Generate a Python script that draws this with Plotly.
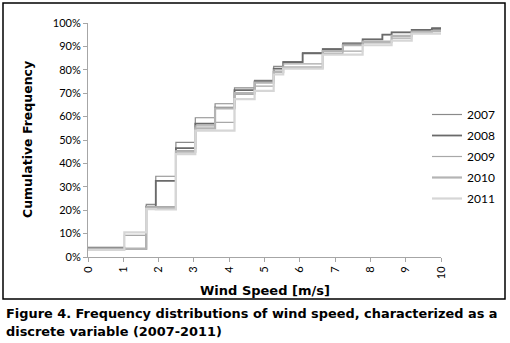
import plotly.graph_objects as go

# Bin edges (wind speed, m/s) and cumulative frequency (%) per year
edges = [0, 1.03, 1.65, 1.92, 2.49, 3.04, 3.6, 4.15, 4.72, 5.26, 5.53, 6.08,
         6.65, 7.22, 7.78, 8.07, 8.34, 8.6, 9.17, 9.74, 10]
years = ["2007", "2008", "2009", "2010", "2011"]
cf_2007 = [3.3, 9.3, 22.5, 34.5, 49.0, 59.5, 65.5, 72.3, 75.5, 81.5, 83.5, 87.3,
           89.0, 91.5, 93.0, 93.0, 95.0, 96.0, 97.0, 98.0, 98.0]
cf_2008 = [4.0, 3.5, 21.5, 32.5, 46.5, 57.0, 63.8, 71.3, 75.0, 80.5, 83.3, 87.0,
           88.8, 91.0, 93.0, 93.0, 95.0, 96.0, 97.0, 97.5, 97.5]
cf_2009 = [3.3, 3.3, 21.5, 21.5, 45.5, 56.0, 57.5, 69.5, 73.0, 80.0, 82.5, 82.5,
           87.0, 88.0, 91.5, 91.5, 91.5, 93.5, 96.5, 96.5, 96.5]
cf_2010 = [3.6, 3.6, 21.0, 21.0, 45.0, 55.0, 63.5, 70.0, 74.5, 79.0, 81.0, 81.0,
           88.0, 90.5, 92.0, 92.0, 92.0, 94.5, 96.0, 96.5, 96.5]
cf_2011 = [3.0, 10.5, 20.5, 20.3, 44.0, 54.0, 54.0, 67.5, 71.0, 78.0, 80.5, 80.5,
           86.5, 86.5, 90.5, 90.5, 90.5, 92.5, 95.5, 95.5, 95.5]
series = [cf_2007, cf_2008, cf_2009, cf_2010, cf_2011]
colors = ["#8a8a8a", "#6a6a6a", "#a8a8a8", "#b4b4b4", "#d6d6d6"]
widths = [1.2, 1.8, 1.2, 2.2, 2.2]

fig = go.Figure()
for name, ys, c, w in zip(years, series, colors, widths):
    fig.add_trace(go.Scatter(x=edges, y=ys, mode="lines", name=name,
                             legendgroup=name,
                             line=dict(shape="hv", color=c, width=w)))

L, R, T, B = 88, 441, 23, 257
W, H = 510, 343
pw, ph = R - L, B - T

def px(x):
    return (x - L) / pw

def py(y):
    return (B - y) / ph

fig.update_layout(
    width=W, height=H,
    margin=dict(l=L, r=W - R, t=T, b=H - B, autoexpand=False),
    paper_bgcolor="white", plot_bgcolor="white",
    font=dict(family="Lato, DejaVu Sans, sans-serif", size=11, color="black"),
    showlegend=True,
    legend=dict(x=px(427), y=py(100), xanchor="left", yanchor="top",
                font=dict(size=12), bgcolor="rgba(0,0,0,0)",
                itemwidth=30, tracegroupgap=2),
    xaxis=dict(range=[0, 10], dtick=1, tick0=0, showgrid=False, zeroline=False,
               showline=True, linecolor="#a6a6a6", linewidth=1,
               ticks="outside", ticklen=4, tickcolor="#a6a6a6",
               tickangle=-90, tickfont=dict(size=11)),
    yaxis=dict(range=[0, 100], dtick=10, tick0=0, ticksuffix="%",
               showgrid=False, zeroline=False,
               showline=True, linecolor="#a6a6a6", linewidth=1,
               ticks="outside", ticklen=4, tickcolor="#a6a6a6",
               tickfont=dict(size=11)),
    shapes=[dict(type="rect", xref="paper", yref="paper",
                 x0=px(3), x1=px(505), y0=py(299), y1=py(3),
                 line=dict(color="black", width=1.5))],
    annotations=[
        dict(text="<b>Wind Speed [m/s]</b>", xref="paper", yref="paper",
             x=px(265), y=py(290), xanchor="center", yanchor="middle",
             showarrow=False, font=dict(family="DejaVu Sans", size=13)),
        dict(text="<b>Cumulative Frequency</b>", xref="paper", yref="paper",
             x=px(27), y=py(140), xanchor="center", yanchor="middle",
             textangle=-90, showarrow=False,
             font=dict(family="DejaVu Sans", size=12.5)),
        dict(text="<b>Figure 4. Frequency distributions of wind speed, characterized as a</b>",
             xref="paper", yref="paper", x=px(4), y=py(313),
             xanchor="left", yanchor="middle", showarrow=False,
             font=dict(family="DejaVu Sans", size=12.9)),
        dict(text="<b>discrete variable (2007-2011)</b>",
             xref="paper", yref="paper", x=px(4), y=py(331),
             xanchor="left", yanchor="middle", showarrow=False,
             font=dict(family="DejaVu Sans", size=12.9)),
    ],
)

fig.write_html("out.html", config={"displayModeBar": False},
               post_script="document.body.style.margin='0';document.body.style.padding='0';")
